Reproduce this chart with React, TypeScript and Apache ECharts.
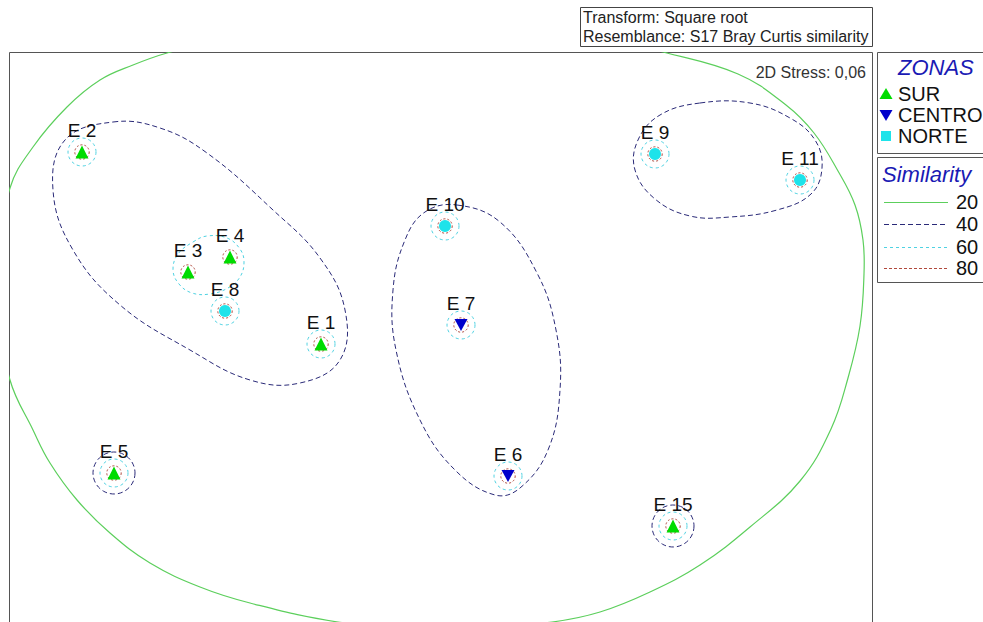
import React, { useEffect, useRef } from "react";
import * as echarts from "echarts";

// ---- nMDS ordination ----
const sampleNames = ["E 1", "E 2", "E 3", "E 4", "E 5", "E 6", "E 7", "E 8", "E 9", "E 10", "E 11", "E 15"];
const mdsX = [-0.6, -1.795, -1.265, -1.055, -1.635, 0.335, 0.1, -1.08, 1.07, 0.02, 1.795, 1.16];
const mdsY = [-0.11, 0.85, 0.25, 0.325, -0.755, -0.77, -0.015, 0.055, 0.84, 0.48, 0.71, -1.02];
const sampleZones = ["SUR", "SUR", "SUR", "SUR", "SUR", "CENTRO", "CENTRO", "NORTE", "NORTE", "NORTE", "NORTE", "SUR"];
const zoneNames = ["SUR", "CENTRO", "NORTE"];
const similarityLevels = ["20", "40", "60", "80"];
const stressText = "2D Stress: 0,06";
const transformText = "Transform: Square root";
const resemblanceText = "Resemblance: S17 Bray Curtis similarity";

// ---- similarity contours ----
const radius80 = 0.036;
const radius60 = 0.07;
const radius40 = 0.105;
const circles80 = sampleNames;
const circles60 = ["E 1", "E 2", "E 5", "E 6", "E 7", "E 8", "E 9", "E 10", "E 11", "E 15"];
const circles40 = ["E 5", "E 15"];

const contour60E3E4 = [
  [-1.24, 0.4], [-1.17, 0.43], [-1.07, 0.42], [-1.005, 0.365], [-0.985, 0.3], [-1.005, 0.225],
  [-1.065, 0.17], [-1.155, 0.14], [-1.245, 0.145], [-1.31, 0.19], [-1.34, 0.26], [-1.315, 0.34],
];
const contour40A = [
  [-1.64, 1.0], [-1.405, 0.97], [-1.17, 0.845], [-0.84, 0.56], [-0.605, 0.32], [-0.48, 0.06],
  [-0.505, -0.19], [-0.705, -0.305], [-0.955, -0.29], [-1.255, -0.14], [-1.605, 0.085],
  [-1.84, 0.36], [-1.94, 0.66], [-1.88, 0.91],
];
const contour40B = [
  [0.08, 0.585], [0.295, 0.5], [0.48, 0.245], [0.575, -0.04], [0.595, -0.34], [0.535, -0.64],
  [0.395, -0.83], [0.27, -0.865], [0.07, -0.74], [-0.105, -0.49], [-0.225, -0.14], [-0.24, 0.16],
  [-0.18, 0.41], [-0.08, 0.55],
];
const contour40C = [
  [1.295, 1.095], [1.545, 1.095], [1.745, 1.02], [1.87, 0.91], [1.905, 0.77], [1.85, 0.64],
  [1.68, 0.56], [1.445, 0.525], [1.245, 0.53], [1.07, 0.615], [0.97, 0.76], [0.985, 0.91], [1.095, 1.035],
];
const contour20 = [
  [-0.13, 1.52], [0.595, 1.48], [1.11, 1.35], [1.485, 1.24], [1.725, 1.085], [1.865, 0.945],
  [1.985, 0.755], [2.07, 0.585], [2.11, 0.41], [2.115, 0.24], [2.095, -0.02], [2.035, -0.28],
  [1.95, -0.535], [1.795, -0.795], [1.545, -1.025], [1.295, -1.215], [1.045, -1.35], [0.795, -1.45],
  [0.555, -1.5], [0.02, -1.55], [-0.515, -1.5], [-0.955, -1.405], [-1.205, -1.325], [-1.455, -1.205],
  [-1.655, -1.055], [-1.82, -0.89], [-1.955, -0.705], [-2.04, -0.54], [-2.155, -0.29], [-2.245, 0.185],
  [-2.155, 0.67], [-2.04, 0.875], [-1.87, 1.075], [-1.705, 1.21], [-1.54, 1.285], [-1.37, 1.345], [-0.855, 1.48],
];

const FONT = "Liberation Sans, Arial, sans-serif";
const COL20 = "#5ccf5c";
const COL40 = "#2a2a78";
const COL60 = "#4fd2e2";
const COL80 = "#b0483c";
const zoneColors = ["#00dc00", "#0000cc", "#1ee3ea"];
const zoneSymbols = ["triangle", "path://M0,0 L10,0 L5,9 Z", "circle"];
const zoneSizes: any[] = [13, [13, 12], 12];
const levelColors = [COL20, COL40, COL60, COL80];
const levelDash: any[] = [null, [5, 3], [3, 3], [3, 2]];

function polySeries(name: string, polys: number[][][], stroke: string, dash: any, width: number) {
  return {
    type: "custom",
    name,
    coordinateSystem: "cartesian2d",
    clip: true,
    silent: true,
    z: 1,
    data: polys.map((p, i) => [p[0][0], p[0][1], i]),
    renderItem: (params: any, api: any) => {
      const pts = polys[params.dataIndex].map((pt) => api.coord(pt));
      return {
        type: "polygon",
        shape: { points: pts, smooth: 0.4 },
        style: { fill: "none", stroke, lineWidth: width, lineDash: dash },
      };
    },
  };
}

function circleSeries(name: string, names: string[], r: number, stroke: string, dash: any) {
  return {
    type: "custom",
    name,
    coordinateSystem: "cartesian2d",
    clip: true,
    silent: true,
    z: 2,
    data: names.map((n) => {
      const i = sampleNames.indexOf(n);
      return [mdsX[i], mdsY[i], r];
    }),
    renderItem: (params: any, api: any) => {
      const c = api.coord([api.value(0), api.value(1)]);
      const s = api.size([api.value(2), api.value(2)]);
      return {
        type: "circle",
        shape: { cx: c[0], cy: c[1], r: s[0] },
        style: { fill: "none", stroke, lineWidth: 1, lineDash: dash },
      };
    },
  };
}

export default function App() {
  const ref = useRef<HTMLDivElement>(null);
  useEffect(() => {
    const chart = echarts.init(ref.current!, null, { renderer: "svg" });

    const scatterSeries = zoneNames.map((z, k) => ({
      type: "scatter",
      name: z,
      symbol: zoneSymbols[k],
      symbolSize: zoneSizes[k],
      itemStyle: { color: zoneColors[k], opacity: 1 },
      z: 5,
      data: sampleNames
        .map((n, i) => ({ name: n, value: [mdsX[i], mdsY[i]], zone: sampleZones[i] }))
        .filter((d) => d.zone === z)
        .map((d) => ({ name: d.name, value: d.value })),
      label: {
        show: true,
        formatter: "{b}",
        position: "inside",
        offset: [0, -22],
        color: "#111",
        fontSize: 19,
        fontFamily: FONT,
      },
    }));

    const legendRowsY = [94, 115, 136];
    const simRowsY = [202, 224, 247, 268];

    const graphic: any[] = [
      // plot frame
      { type: "rect", silent: true, shape: { x: 9.5, y: 52.5, width: 863, height: 640 }, style: { fill: "none", stroke: "#555", lineWidth: 1 } },
      // transform box
      { type: "rect", silent: true, shape: { x: 580.5, y: 7.5, width: 292, height: 39 }, style: { fill: "#fff", stroke: "#444", lineWidth: 1 } },
      { type: "text", silent: true, x: 583, y: 17, style: { text: transformText, font: `16px ${FONT}`, fill: "#222", verticalAlign: "middle" } },
      { type: "text", silent: true, x: 583, y: 36, style: { text: resemblanceText, font: `16px ${FONT}`, fill: "#222", verticalAlign: "middle" } },
      // stress
      { type: "text", silent: true, x: 866, y: 72, style: { text: stressText, font: `16px ${FONT}`, fill: "#333", align: "right", verticalAlign: "middle" } },
      // legend box 1
      { type: "rect", silent: true, shape: { x: 877.5, y: 52.5, width: 120, height: 101 }, style: { fill: "#fff", stroke: "#555", lineWidth: 1 } },
      { type: "text", silent: true, x: 898, y: 67, style: { text: "ZONAS", font: `italic 22px ${FONT}`, fill: "#1a1ab4", verticalAlign: "middle" } },
      // legend icons
      { type: "polygon", silent: true, shape: { points: [[886, legendRowsY[0] - 6], [892.5, legendRowsY[0] + 5], [879.5, legendRowsY[0] + 5]] }, style: { fill: zoneColors[0] } },
      { type: "polygon", silent: true, shape: { points: [[879.5, legendRowsY[1] - 5], [892.5, legendRowsY[1] - 5], [886, legendRowsY[1] + 6]] }, style: { fill: zoneColors[1] } },
      { type: "rect", silent: true, shape: { x: 881, y: legendRowsY[2] - 5, width: 10, height: 10 }, style: { fill: zoneColors[2] } },
      ...zoneNames.map((z, k) => ({
        type: "text", silent: true, x: 898, y: legendRowsY[k],
        style: { text: z, font: `20px ${FONT}`, fill: "#111", verticalAlign: "middle" },
      })),
      // legend box 2
      { type: "rect", silent: true, shape: { x: 877.5, y: 157.5, width: 120, height: 125 }, style: { fill: "#fff", stroke: "#555", lineWidth: 1 } },
      { type: "text", silent: true, x: 882, y: 174, style: { text: "Similarity", font: `italic 22px ${FONT}`, fill: "#1a1ab4", verticalAlign: "middle" } },
      ...similarityLevels.map((lv, k) => ({
        type: "line", silent: true,
        shape: { x1: 884, y1: simRowsY[k] + 0.5, x2: 948, y2: simRowsY[k] + 0.5 },
        style: { stroke: levelColors[k], lineWidth: 1, lineDash: levelDash[k] },
      })),
      ...similarityLevels.map((lv, k) => ({
        type: "text", silent: true, x: 956, y: simRowsY[k],
        style: { text: lv, font: `20px ${FONT}`, fill: "#111", verticalAlign: "middle" },
      })),
    ];

    const option: any = {
      animation: false,
      backgroundColor: "#fff",
      grid: { left: 9, right: 111, top: 52, bottom: 0, containLabel: false },
      xAxis: { type: "value", min: -2.16, max: 2.155, show: false },
      yAxis: { type: "value", min: -1.5, max: 1.35, show: false },
      graphic,
      series: [
        polySeries("20", [contour20], COL20, null, 1.2),
        polySeries("40", [contour40A, contour40B, contour40C], COL40, [5, 3], 1),
        circleSeries("40c", circles40, radius40, COL40, [5, 3]),
        polySeries("60", [contour60E3E4], COL60, [3, 3], 1),
        circleSeries("60c", circles60, radius60, COL60, [3, 3]),
        circleSeries("80c", circles80, radius80, COL80, [2, 2]),
        ...scatterSeries,
      ],
    };
    chart.setOption(option);
    return () => chart.dispose();
  }, []);
  return (
    <div
      ref={ref}
      style={{ position: "fixed", left: 0, top: 0, width: 983, height: 622, background: "#fff" }}
    />
  );
}
